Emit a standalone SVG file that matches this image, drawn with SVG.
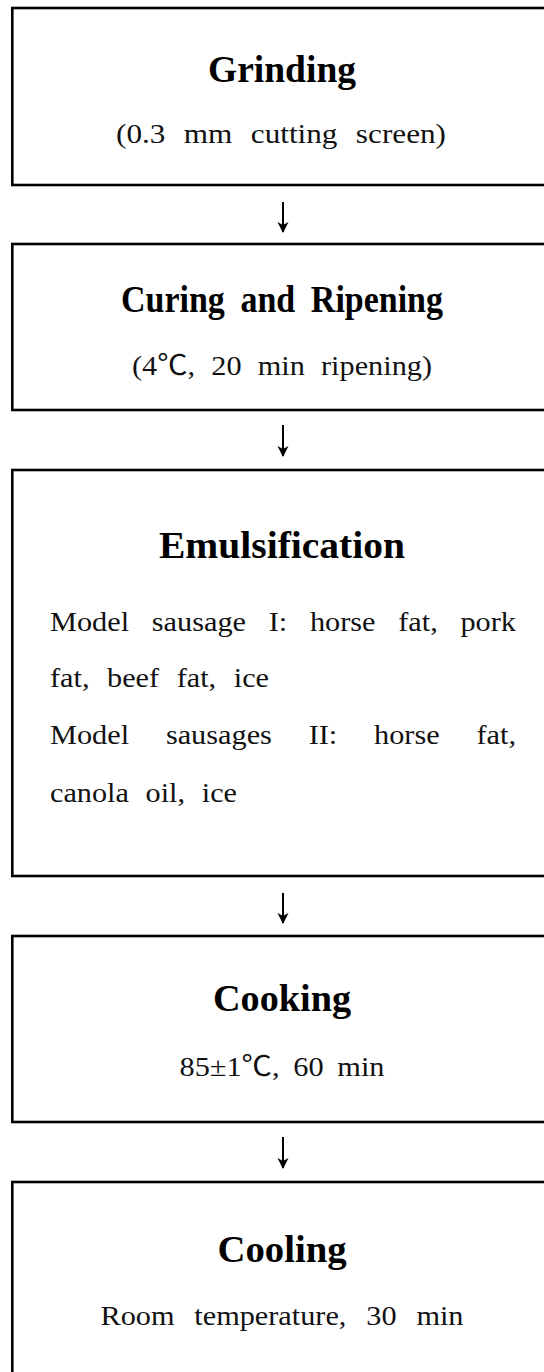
<svg xmlns="http://www.w3.org/2000/svg" width="544" height="1372" viewBox="0 0 544 1372">
<style>
.box{fill:#fff;stroke:#000;stroke-width:2.6}
.t{font-family:"Liberation Serif","Noto Sans CJK KR",serif;font-weight:bold;font-size:38px;fill:#000}
.s{font-family:"Liberation Serif","Noto Sans CJK KR",serif;font-size:28px;fill:#111}
.c{stroke:#000;stroke-width:2;fill:none}
</style>
<defs>
<marker id="ah" markerUnits="userSpaceOnUse" markerWidth="14" markerHeight="12" refX="11" refY="6" orient="auto" viewBox="0 0 14 12">
<path d="M1,0.5 L12,6 L1,11.5 L4,6 Z" fill="#000"/>
</marker>
</defs>
<rect width="544" height="1372" fill="#fff"/>
<g id="grinding">
<rect class="box" x="12.3" y="8" width="560" height="177"/>
<text class="t" x="208" y="82" textLength="148" lengthAdjust="spacingAndGlyphs">Grinding</text>
<text class="s" x="116" y="143" word-spacing="9.5" textLength="330" lengthAdjust="spacingAndGlyphs">(0.3 mm cutting screen)</text>
</g>
<g id="curing">
<rect class="box" x="12.3" y="244" width="560" height="166"/>
<text class="t" x="121" y="312" word-spacing="8" textLength="322" lengthAdjust="spacingAndGlyphs">Curing and Ripening</text>
<text class="s" x="132" y="375" word-spacing="8" textLength="300" lengthAdjust="spacingAndGlyphs">(4℃, 20 min ripening)</text>
</g>
<g id="emulsification">
<rect class="box" x="12.3" y="470" width="560" height="406"/>
<text class="t" x="159" y="558" textLength="246" lengthAdjust="spacingAndGlyphs">Emulsification</text>
<text class="s" x="50" y="631" word-spacing="14" textLength="466" lengthAdjust="spacingAndGlyphs">Model sausage I: horse fat, pork</text>
<text class="s" x="50" y="687" word-spacing="9.3" textLength="219" lengthAdjust="spacingAndGlyphs">fat, beef fat, ice</text>
<text class="s" x="50" y="744" word-spacing="27" textLength="466" lengthAdjust="spacingAndGlyphs">Model sausages II: horse fat,</text>
<text class="s" x="50" y="802" word-spacing="8.4" textLength="187" lengthAdjust="spacingAndGlyphs">canola oil, ice</text>
</g>
<g id="cooking">
<rect class="box" x="12.3" y="936" width="560" height="186"/>
<text class="t" x="213" y="1011" textLength="138" lengthAdjust="spacingAndGlyphs">Cooking</text>
<text class="s" x="179.5" y="1076" word-spacing="5.7" textLength="205" lengthAdjust="spacingAndGlyphs">85±1℃, 60 min</text>
</g>
<g id="cooling">
<rect class="box" x="12.3" y="1182" width="560" height="220"/>
<text class="t" x="217.5" y="1262" textLength="129" lengthAdjust="spacingAndGlyphs">Cooling</text>
<text class="s" x="100.5" y="1325" word-spacing="11.4" textLength="363" lengthAdjust="spacingAndGlyphs">Room temperature, 30 min</text>
</g>
<g id="connectors">
<line class="c" x1="283" y1="202" x2="283" y2="232" marker-end="url(#ah)"/>
<line class="c" x1="283" y1="425" x2="283" y2="456" marker-end="url(#ah)"/>
<line class="c" x1="283" y1="893" x2="283" y2="923" marker-end="url(#ah)"/>
<line class="c" x1="283" y1="1137" x2="283" y2="1168" marker-end="url(#ah)"/>
</g>
</svg>
